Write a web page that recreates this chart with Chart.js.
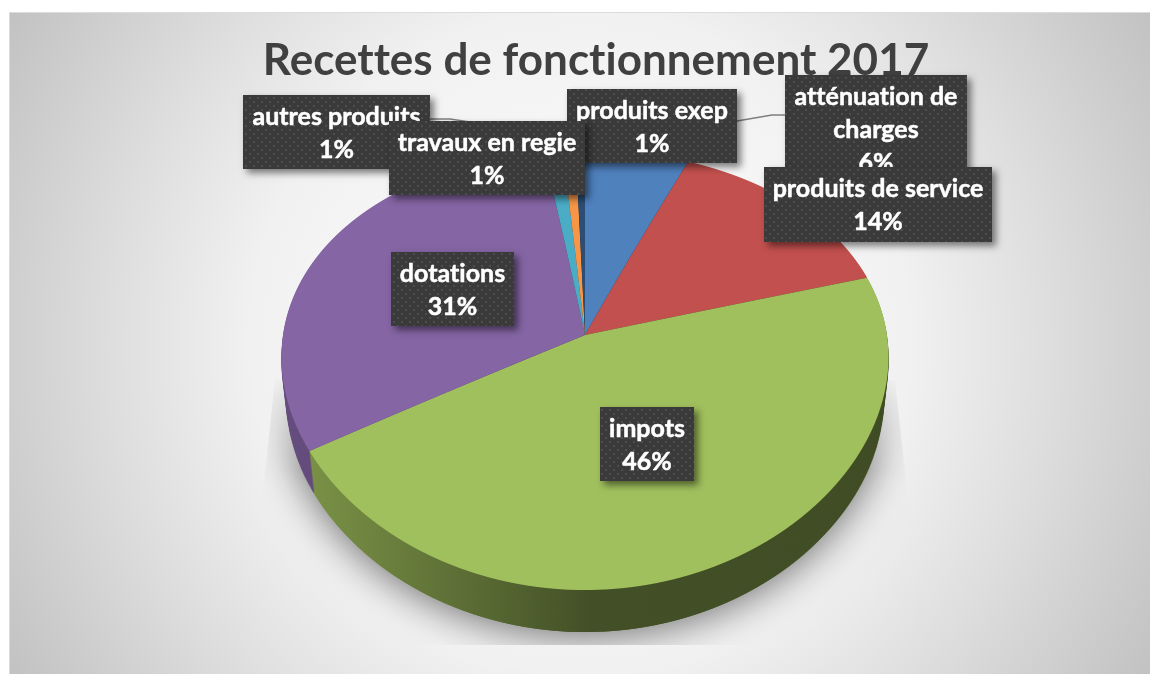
<!DOCTYPE html>
<html lang="fr">
<head>
<meta charset="utf-8">
<title>Recettes de fonctionnement 2017</title>
<script src="https://cdn.jsdelivr.net/npm/chart.js@4"></script>
<style>
html,body{margin:0;padding:0;background:#fff;overflow:hidden}
#bg{position:absolute;left:9px;top:12px;width:1141px;height:662px;box-sizing:border-box;
 background:radial-gradient(circle farthest-corner at 50% 50%,#ffffff 0%,#f1f1f1 50%,#dedede 71%,#c2c2c2 100%);
 border-left:1px solid #dcdcdc;border-top:1px solid #dcdcdc}
canvas{position:absolute;left:0;top:0}
</style>
</head>
<body>
<div id="bg"></div>
<canvas id="c" width="1150" height="675"></canvas>
<script>
const chartTitle = 'Recettes de fonctionnement 2017';
const categories = ['atténuation de charges','produits de service','impots','dotations','autres produits','travaux en regie','produits exep'];
const values = [6.1,14.4,46.2,30.9,1.1,0.75,0.55];
const sliceColors = ['#4f81bd','#c2504e','#a0bf5d','#8565a4','#4bacc6','#f79646','#2c4d75'];

// label box rectangles [left, top, right, bottom], in paint order: index into categories
const labelBoxes = [
  {i:0, r:[785,75,967,179]},
  {i:1, r:[764,167,992,242]},
  {i:3, r:[391,252,514,326]},
  {i:2, r:[600,407,694,481]},
  {i:4, r:[243,95,430,169]},
  {i:6, r:[567,89,737,163]},
  {i:5, r:[389,121,585,195]}
];
const leaderLines = [
  [[785,115],[772,115],[737,121]],
  [[430,119],[450,119],[470,122]]
];
// perspective of the disc
const VIEW = {cx:585, cy:335, R:302, k:214.5, p:0.159, px:0.1, depth:42, narrow:0.0004};

function layer(w,h){const c=document.createElement('canvas');c.width=w;c.height=h;return c;}

function paintDisc(chart){
  const W=chart.width,H=chart.height;
  const A=layer(W,H),a=A.getContext('2d');
  const arcs=chart.getDatasetMeta(0).data;
  const c0=arcs[0],R0=c0.outerRadius,x0=c0.x,y0=c0.y;
  const yTop=Math.ceil(VIEW.cy-VIEW.k/(1+VIEW.p))-2, yBot=Math.floor(VIEW.cy+VIEW.k/(1-VIEW.p))+2;
  for(let Y=yTop;Y<=yBot;Y++){
    const t=(Y+0.5-VIEW.cy)/VIEW.k, v=t/(1+VIEW.p*t), w=1-VIEW.p*v;
    const sx=VIEW.R/(R0*(1-VIEW.px*v)), sy=VIEW.k/(R0*w*w);
    a.save();
    a.setTransform(1,0,0,1,0,0);
    a.beginPath();a.rect(0,Y,W,1);a.clip();
    a.setTransform(sx,0,0,sy,VIEW.cx-sx*x0,(Y+0.5)-sy*(y0+R0*v));
    arcs.forEach(el=>el.draw(a));
    a.restore();
  }
  return A;
}
function paintRim(A,W,H){
  const B=layer(W,H),b=B.getContext('2d');
  for(let k=VIEW.depth;k>=1;k--){
    const s=1-k*VIEW.narrow;
    b.drawImage(A,VIEW.cx*(1-s),k,W*s,H);
  }
  const g=b.createLinearGradient(290,0,890,0);
  g.addColorStop(0,'rgba(0,0,0,0.22)');
  g.addColorStop(0.08,'rgba(0,0,0,0.27)');
  g.addColorStop(0.5,'rgba(0,0,0,0.58)');
  g.addColorStop(1,'rgba(0,0,0,0.6)');
  b.globalCompositeOperation='source-atop';
  b.fillStyle=g;b.fillRect(0,0,W,H);
  return B;
}
function paintShadow(B,W,H){
  const S=layer(W,H),s=S.getContext('2d');
  s.shadowColor='rgba(0,0,0,0.55)';s.shadowBlur=40;s.shadowOffsetY=4;
  s.drawImage(B,0,0);
  s.shadowColor='transparent';
  s.globalCompositeOperation='destination-in';
  s.beginPath();
  [[275,380],[262,500],[262,645],[908,645],[908,500],[895,380]].forEach((p,i)=>i?s.lineTo(p[0],p[1]):s.moveTo(p[0],p[1]));
  s.closePath();s.fill();
  const g=s.createLinearGradient(0,375,0,470);
  g.addColorStop(0,'rgba(0,0,0,0)');g.addColorStop(1,'rgba(0,0,0,1)');
  s.fillStyle=g;s.fillRect(0,0,W,H);
  return S;
}
const disc3d={
  id:'disc3d',
  beforeDraw(chart){ chart.ctx.letterSpacing='0.01px'; },
  beforeDatasetsDraw(chart){
    const W=chart.width,H=chart.height,ctx=chart.ctx;
    const tb=chart.titleBlock;
    ctx.save();
    ctx.font='bold 44px Lato, sans-serif';ctx.textAlign='center';ctx.textBaseline='middle';
    ctx.strokeStyle='#404040';ctx.lineWidth=0.9;ctx.lineJoin='round';
    ctx.strokeText(chartTitle,(tb.left+tb.right)/2,tb.top+34+tb.options.font.lineHeight*44/2);
    ctx.restore();
    const A=paintDisc(chart),B=paintRim(A,W,H),S=paintShadow(B,W,H);
    ctx.drawImage(S,0,0);ctx.drawImage(B,0,0);ctx.drawImage(A,0,0);
    return false;
  }
};
function dotPattern(ctx){
  const p=layer(8,8),c=p.getContext('2d');
  c.fillStyle='#3a3a3a';c.fillRect(0,0,8,8);
  c.fillStyle='#4e4e4e';c.fillRect(1,1,2,2);c.fillRect(5,5,2,2);
  return ctx.createPattern(p,'repeat');
}
function wrap(ctx,text,maxW){
  const out=[];let cur='';
  text.split(' ').forEach(w=>{
    const t=cur?cur+' '+w:w;
    if(ctx.measureText(t).width>maxW&&cur){out.push(cur);cur=w;}else cur=t;
  });
  if(cur)out.push(cur);return out;
}
const dataLabels={
  id:'dataLabels',
  afterDraw(chart){
    const ctx=chart.ctx,total=values.reduce((a,b)=>a+b,0),pat=dotPattern(ctx);
    ctx.save();
    ctx.strokeStyle='#7f7f7f';ctx.lineWidth=1.5;
    leaderLines.forEach(l=>{ctx.beginPath();l.forEach((p,i)=>i?ctx.lineTo(p[0],p[1]):ctx.moveTo(p[0],p[1]));ctx.stroke();});
    ctx.font='bold 25px Lato, sans-serif';ctx.textAlign='center';ctx.textBaseline='middle';
    ctx.lineJoin='round';
    labelBoxes.forEach(b=>{
      const [l,t,r,bt]=b.r;
      ctx.save();
      ctx.shadowColor='rgba(0,0,0,0.5)';ctx.shadowBlur=7;ctx.shadowOffsetX=4;ctx.shadowOffsetY=4;
      ctx.fillStyle='#3a3a3a';ctx.fillRect(l,t,r-l,bt-t);
      ctx.restore();
      ctx.fillStyle=pat;ctx.fillRect(l,t,r-l,bt-t);
      const lines=wrap(ctx,categories[b.i],r-l-10);
      lines.push(Math.round(values[b.i]/total*100)+'%');
      ctx.fillStyle='#ffffff';ctx.strokeStyle='#ffffff';ctx.lineWidth=0.5;
      lines.forEach((s,n)=>{ctx.fillText(s,(l+r)/2,t+22+n*33);ctx.strokeText(s,(l+r)/2,t+22+n*33);});
    });
    ctx.restore();
  }
};
new Chart(document.getElementById('c').getContext('2d'),{
  type:'pie',
  data:{labels:categories,datasets:[{data:values,backgroundColor:sliceColors,borderWidth:0}]},
  options:{
    responsive:false,animation:false,
    layout:{padding:{left:42}},
    plugins:{
      legend:{display:false},tooltip:{enabled:false},
      title:{display:true,text:chartTitle,color:'#404040',font:{family:'Lato, sans-serif',size:44,weight:'bold'},padding:{top:34,bottom:0}}
    }
  },
  plugins:[disc3d,dataLabels]
});
</script>
</body>
</html>
